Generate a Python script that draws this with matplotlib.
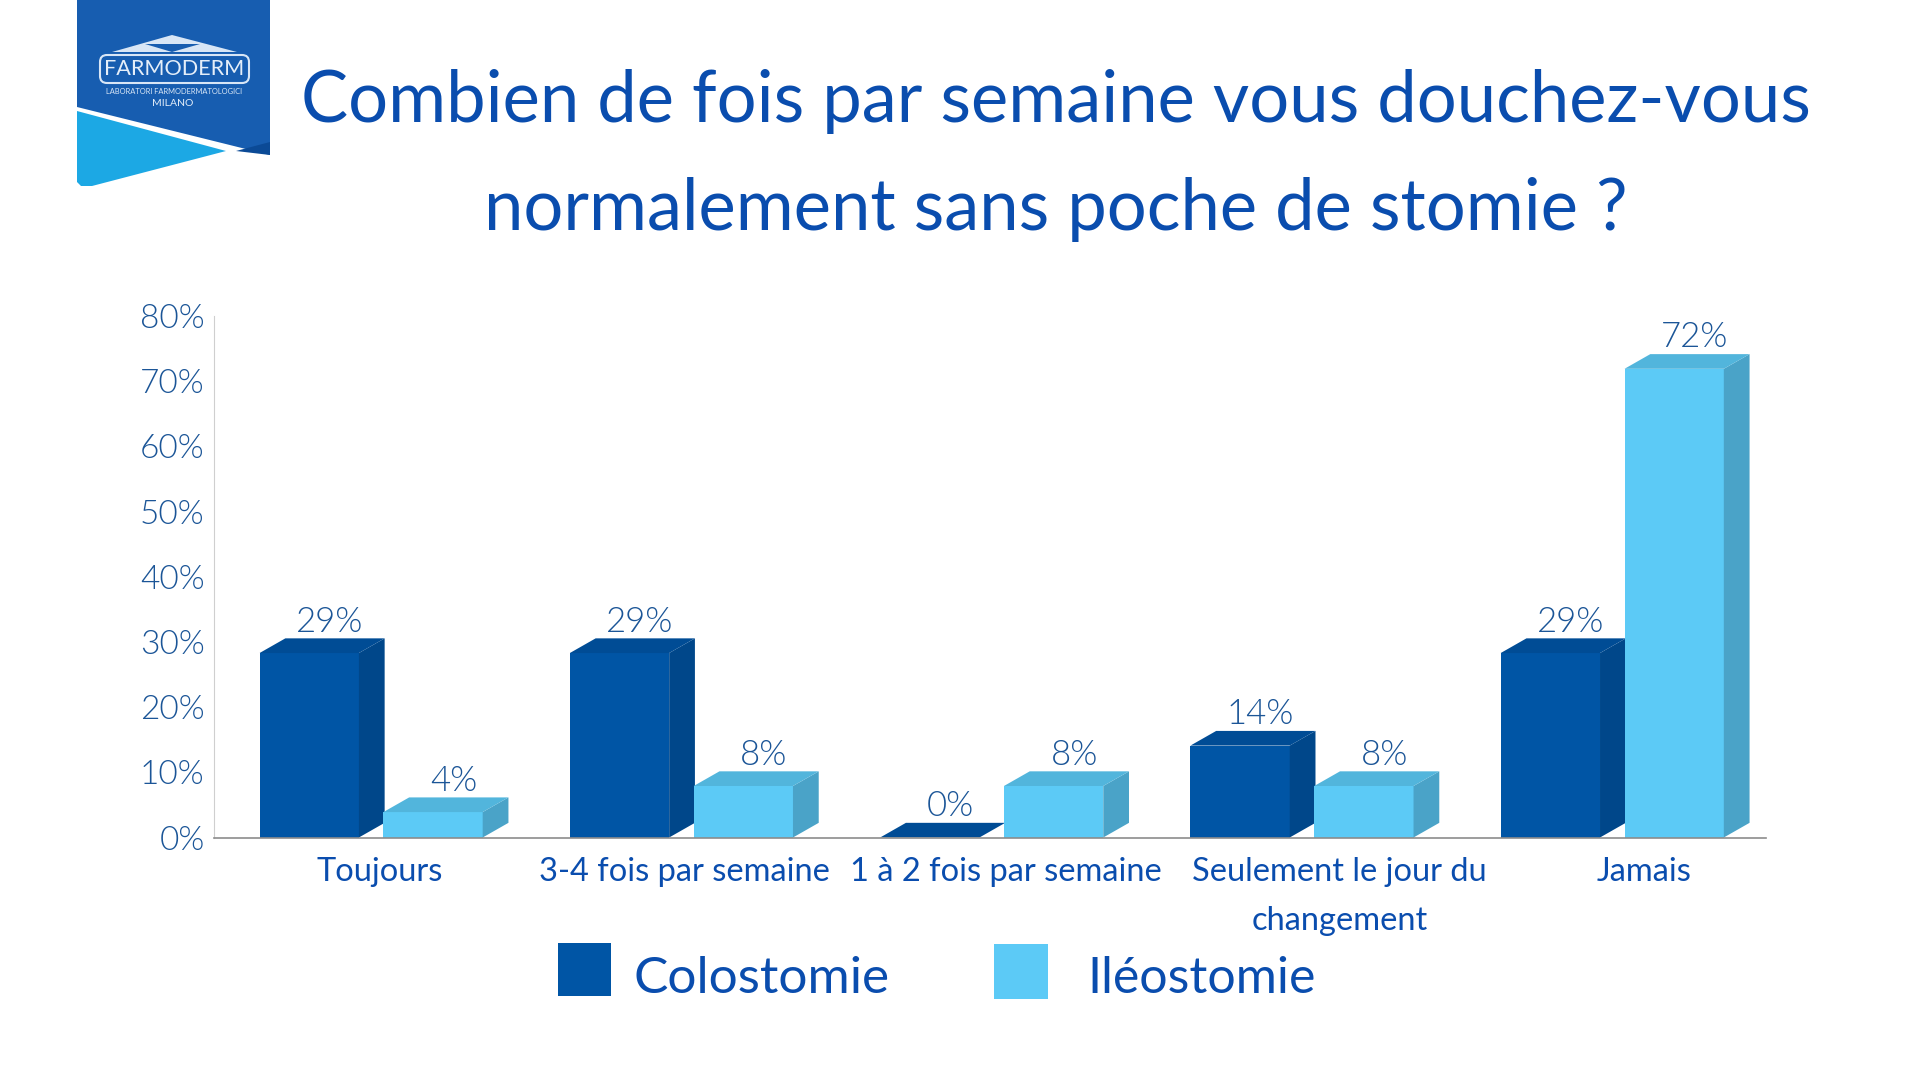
import numpy as np
import matplotlib
matplotlib.use("Agg")
from matplotlib import pyplot as plt
from matplotlib import font_manager
from matplotlib.patches import Polygon, Rectangle, FancyBboxPatch

categories = ["Toujours", "3-4 fois par semaine", "1 à 2 fois par semaine",
              "Seulement le jour du\nchangement", "Jamais"]
colostomie = [28.3, 28.3, 0, 14.1, 28.3]
ileostomie = [3.9, 7.9, 7.9, 7.9, 71.9]
value_labels_colo = ["29%", "29%", "0%", "14%", "29%"]
value_labels_ileo = ["4%", "8%", "8%", "8%", "72%"]
y_ticks = [0, 10, 20, 30, 40, 50, 60, 70, 80]
title_lines = ["Combien de fois par semaine vous douchez-vous",
               "normalement sans poche de stomie ?"]

# layout
W, H = 1920, 1080
TITLE_BLUE = "#0A4DAE"
LABEL_BLUE = "#1B5597"
DARK = ("#0055A5", "#004C95", "#00478A")    # front, top, side
LIGHT = ("#5CCAF6", "#52B5DC", "#4AA3C8")
BAR_W = 0.32
OFF_COLO = 0.146
OFF_ILEO = 0.545
DEPTH_X = 0.083
DEPTH_Y = 2.25
LABEL_SHIFT = [0.033, 0.016, 0.051, 0.126, 0.107]

plt.rcParams["font.family"] = ["Lato", "DejaVu Sans"]

# Lato Light if there is a file for it, weight="light" picks the hairline cut
light_font = font_manager.FontProperties(family="Lato")
for f in font_manager.fontManager.ttflist:
    if f.name == "Lato" and f.fname.endswith("Lato-Light.ttf"):
        light_font = font_manager.FontProperties(fname=f.fname)

fig = plt.figure(figsize=(19.2, 10.8), dpi=100)
ax = fig.add_axes([214.3 / W, 1 - 837.5 / H, 1551.4 / W, 521.5 / H])


def bars_3d(values, offset, cols, names):
    xs = np.arange(len(values)) + offset
    ax.bar(xs, values, BAR_W, align="edge", color=cols[0], zorder=3)
    for x, v, name in zip(xs, values, names):
        # top and side faces, pushed back by the depth
        top = [(x, v), (x + BAR_W, v), (x + BAR_W + DEPTH_X, v + DEPTH_Y), (x + DEPTH_X, v + DEPTH_Y)]
        side = [(x + BAR_W, 0), (x + BAR_W + DEPTH_X, DEPTH_Y),
                (x + BAR_W + DEPTH_X, v + DEPTH_Y), (x + BAR_W, v)]
        ax.add_patch(Polygon(side, closed=True, fc=cols[2], ec="none", zorder=3))
        ax.add_patch(Polygon(top, closed=True, fc=cols[1], ec="none", zorder=3))
        ax.annotate(name, (x + (BAR_W + DEPTH_X) / 2, v + DEPTH_Y), xytext=(5.5, 0.5),
                    textcoords="offset points", ha="center", va="bottom",
                    fontproperties=light_font, fontsize=25, color=LABEL_BLUE, zorder=6)


bars_3d(colostomie, OFF_COLO, DARK, value_labels_colo)
bars_3d(ileostomie, OFF_ILEO, LIGHT, value_labels_ileo)

ax.set_xlim(0, 5)
ax.set_ylim(0, 80)
ax.set_yticks(y_ticks)
ax.set_yticklabels(["{}%".format(t) for t in y_ticks], fontproperties=light_font, fontsize=24, color=LABEL_BLUE)
ax.set_xticks(np.arange(5) + 0.5 + np.array(LABEL_SHIFT))
ax.set_xticklabels(categories, fontsize=23.5, color=TITLE_BLUE, linespacing=1.8)
ax.tick_params(axis="both", length=0)
ax.tick_params(axis="y", pad=7)
ax.tick_params(axis="x", pad=14)
for s in ["top", "right"]:
    ax.spines[s].set_visible(False)
ax.spines["left"].set_color("#CFCFCF")
ax.spines["bottom"].set_color("#8C8C8C")
ax.spines["bottom"].set_linewidth(1.2)
ax.spines["bottom"].set_zorder(5)

# overlay in pixel coordinates for title, logo and legend
ov = fig.add_axes([0, 0, 1, 1], facecolor="none")
ov.set_xlim(0, W)
ov.set_ylim(H, 0)
ov.axis("off")

ov.text(1056, 122.5, title_lines[0], fontsize=50.8, color=TITLE_BLUE, ha="center", va="baseline")
ov.text(1056, 230, title_lines[1], fontsize=50.8, color=TITLE_BLUE, ha="center", va="baseline")

# legend
ov.add_patch(Rectangle((558, 943), 53, 53, fc=DARK[0], ec="none"))
ov.add_patch(Rectangle((994, 944), 54, 55, fc=LIGHT[0], ec="none"))
ov.text(633, 993, "Colostomie", fontsize=37, color=TITLE_BLUE, va="baseline")
ov.text(1087, 993, "Iléostomie", fontsize=36, color=TITLE_BLUE, va="baseline")

# logo
ov.add_patch(Polygon([(77, 0), (270, 0), (270, 155), (77, 107)], fc="#175DB0", ec="none"))
ov.add_patch(Polygon([(77, 111), (226, 151), (92, 186), (81, 186), (77, 182)], fc="#1CA8E4", ec="none"))
ov.add_patch(Polygon([(236, 151), (270, 142), (270, 155)], fc="#0B4A96", ec="none"))
ov.add_patch(Polygon([(172, 35), (237, 52), (112, 52)], fc="#D8E6F6", ec="none"))
ov.add_patch(Polygon([(145, 44), (200, 44), (172, 52)], fc="#175DB0", ec="none"))
ov.add_patch(FancyBboxPatch((100, 55), 149, 28, boxstyle="round,pad=0,rounding_size=7",
                            fc="none", ec="#D8E6F6", lw=1.5))
ov.text(174, 69, "FARMODERM", fontsize=15.6, color="#E4EEF9", ha="center", va="center")
ov.text(174, 91, "LABORATORI FARMODERMATOLOGICI", fontsize=5.4, color="#D8E6F6", ha="center", va="center")
ov.text(173, 103, "MILANO", fontsize=7.5, color="#E4EEF9", ha="center", va="center")

fig.savefig("out.png", dpi=100)
